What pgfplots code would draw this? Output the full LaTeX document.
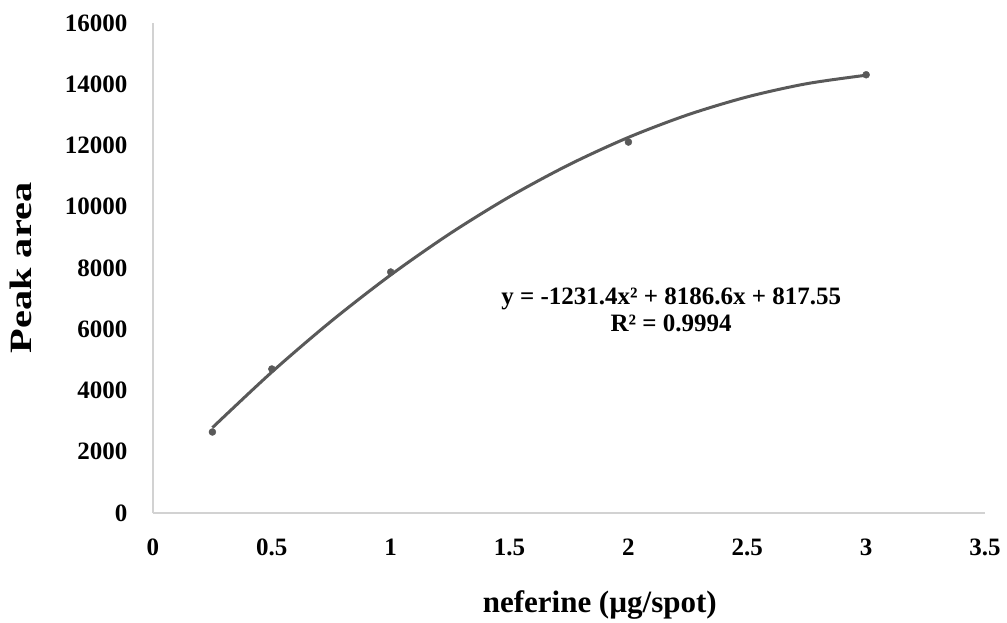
\documentclass[border=0pt]{standalone}
\usepackage{pgfplots}
\pgfplotsset{compat=1.18}
\usepackage{fontspec}
\setmainfont{Liberation Serif}
\definecolor{linegray}{RGB}{89,89,89}
\definecolor{axgray}{RGB}{210,210,210}
\begin{document}
\begin{tikzpicture}
\begin{axis}[
  width=832pt, height=490pt, scale only axis,
  xmin=0, xmax=3.5, ymin=0, ymax=16000,
  xtick={0,0.5,1,1.5,2,2.5,3,3.5},
  ytick={0,2000,4000,6000,8000,10000,12000,14000,16000},
  scaled ticks=false,
  axis x line=bottom, axis y line=left,
  axis line style={-, draw=axgray, line width=1.5pt},
  major tick length=0pt,
  /pgf/number format/assume math mode=true,
  /pgf/number format/1000 sep={},
  tick label style={font=\fontsize{25}{30}\selectfont\bfseries},
  xticklabel style={yshift=-22pt},
  yticklabel style={xshift=-22pt},
  xlabel={neferine (µg/spot)},
  ylabel={\scalebox{1.3}[1]{Peak area}},
  xlabel style={font=\fontsize{31}{36}\selectfont\bfseries, at={(axis description cs:0.537,-0.188)}, anchor=center},
  ylabel style={font=\fontsize{31}{36}\selectfont\bfseries, at={(axis description cs:-0.159,0.5)}, anchor=center, rotate=0},
  clip=false,
]
\addplot[linegray, line width=3pt, smooth, no marks] coordinates {
(0.25,2787.24) (0.5,4603.0) (0.75,6264.84) (1,7772.75) (1.25,9126.74)
(1.5,10326.8) (1.75,11372.94) (2,12265.15) (2.25,13003.44) (2.5,13587.8)
(2.75,14018.24) (3,14294.75)
};
\addplot[only marks, mark=*, mark size=3.5pt, color=linegray] coordinates {
(0.25,2645) (0.5,4702) (1,7869) (2,12113) (3,14310)
};
\node[align=center, font=\fontsize{25}{27}\selectfont\bfseries] at (axis cs:2.18,6630) {y = -1231.4x² + 8186.6x + 817.55\\R² = 0.9994};
\end{axis}
\pgfresetboundingbox
\path[use as bounding box] (-153pt,-109pt) rectangle (854pt,513pt);
\end{tikzpicture}
\end{document}
